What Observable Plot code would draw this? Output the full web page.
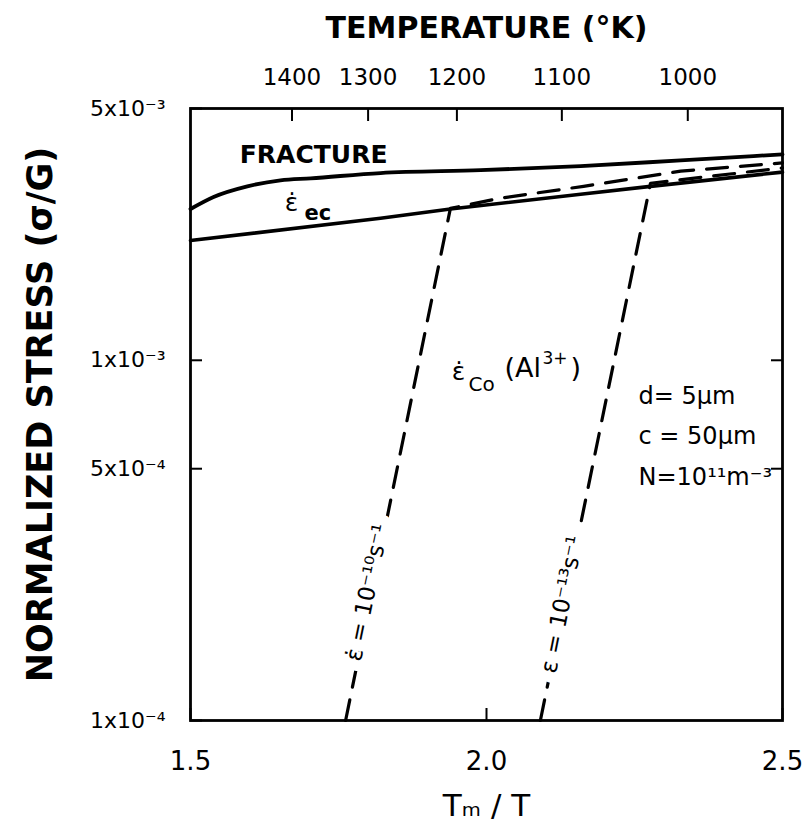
<!DOCTYPE html>
<html><head><meta charset="utf-8">
<script src="https://cdn.jsdelivr.net/npm/d3@7"></script>
<script src="https://cdn.jsdelivr.net/npm/@observablehq/plot@0.6"></script>
<style>body{margin:0;background:#fff;} svg{display:block}</style>
</head><body><div id="chart"></div>
<script>
// ---- data ----
const meltingT = 2340; // K, used for the top temperature axis (Tm/T)
const tempTicks = [1400, 1300, 1200, 1100, 1000];
const tempTickLabels = ["1400", "1300", "1200", "1100", "1000"];
const xTicks = [1.5, 2.0, 2.5];
const xTickLabels = ["1.5", "2.0", "2.5"];
const yTicks = [5e-3, 1e-3, 5e-4, 1e-4];
const yTickLabels = ["5x10⁻³", "1x10⁻³", "5x10⁻⁴", "1x10⁻⁴"];
const yRightTicks = [1e-3, 5e-4];

const fractureX = [1.5, 1.539, 1.596, 1.652, 1.703, 1.821, 1.990, 2.159, 2.328, 2.5];
const fractureY = [2.63e-3, 2.84e-3, 3.04e-3, 3.16e-3, 3.20e-3, 3.31e-3, 3.37e-3, 3.46e-3, 3.59e-3, 3.73e-3];

const ecX = [1.5, 1.821, 1.939, 2.159, 2.277, 2.5];
const ecY = [2.15e-3, 2.48e-3, 2.63e-3, 2.89e-3, 3.04e-3, 3.33e-3];

const rate10X = [1.762, 1.939, 2.024, 2.164, 2.328, 2.5];
const rate10Y = [1.0e-4, 2.64e-3, 2.82e-3, 3.04e-3, 3.35e-3, 3.53e-3];

const rate13X = [2.091, 2.277, 2.5];
const rate13Y = [1.0e-4, 3.10e-3, 3.42e-3];

// ---- build tables ----
const rows = (xs, ys) => xs.map((x, i) => ({x, y: ys[i]}));
const fracture = rows(fractureX, fractureY);
const ec = rows(ecX, ecY);
const rate10 = rows(rate10X, rate10Y);
const rate13 = rows(rate13X, rate13Y);

const tempPos = tempTicks.map(T => meltingT / T);
const tempLabelOf = new Map(tempPos.map((p, i) => [p, tempTickLabels[i]]));
const xLabelOf = new Map(xTicks.map((v, i) => [v, xTickLabels[i]]));
const yLabelOf = new Map(yTicks.map((v, i) => [v, yTickLabels[i]]));

const FONT = "DejaVu Sans";

const chart = Plot.plot({
  width: 808,
  height: 829,
  marginLeft: 190,
  marginRight: 26,
  marginTop: 108,
  marginBottom: 109,
  style: {fontFamily: FONT, color: "#000", background: "#fff"},
  x: {domain: [1.5, 2.5]},
  y: {type: "log", domain: [1e-4, 5e-3]},
  marks: [
    Plot.frame({stroke: "#000", strokeWidth: 2.8}),
    // axes
    Plot.axisX({anchor: "bottom", label: null, ticks: xTicks, tickSize: -12, tickPadding: 43, strokeWidth: 2,
      tickFormat: d => xLabelOf.get(d), fontSize: 26}),
    Plot.axisX({anchor: "top", label: null, ticks: tempPos, tickSize: -12, tickPadding: 36, strokeWidth: 2,
      tickFormat: d => tempLabelOf.get(d), fontSize: 23}),
    Plot.axisY({anchor: "left", label: null, ticks: yTicks, tickSize: -12, tickPadding: 37, strokeWidth: 2,
      tickFormat: d => yLabelOf.get(d), fontSize: 22}),
    Plot.axisY({anchor: "right", label: null, ticks: yRightTicks, tickSize: -12, strokeWidth: 2,
      tickFormat: () => ""}),
    // curves
    Plot.line(fracture, {x: "x", y: "y", stroke: "#000", strokeWidth: 3.8, curve: "monotone-x"}),
    Plot.line(ec, {x: "x", y: "y", stroke: "#000", strokeWidth: 3.6}),
    Plot.line(rate10, {x: "x", y: "y", stroke: "#000", strokeWidth: 3.2, strokeDasharray: "21,13"}),
    Plot.line(rate13, {x: "x", y: "y", stroke: "#000", strokeWidth: 3.2, strokeDasharray: "21,13"}),
    // annotations
    Plot.text(["FRACTURE"], {x: 1.708, y: 3.71e-3, fontSize: 25, fontWeight: "bold", textAnchor: "middle"}),
    Plot.text(["ε̇"], {x: 1.6706, y: 2.73e-3, fontSize: 25, textAnchor: "middle"}),
    Plot.text(["ec"], {x: 1.6706, y: 2.73e-3, dx: 13, dy: 10, fontSize: 21, fontWeight: "bold", textAnchor: "start"}),
    Plot.text(["ε̇"], {x: 1.9527, y: 9.26e-4, fontSize: 25, textAnchor: "middle"}),
    Plot.text(["Co"], {x: 1.9527, y: 9.26e-4, dx: 10, dy: 12, fontSize: 20, textAnchor: "start"}),
    Plot.text(["(Al"], {x: 1.9527, y: 9.26e-4, dx: 46, dy: -4, fontSize: 27, textAnchor: "start"}),
    Plot.text(["3+"], {x: 1.9527, y: 9.26e-4, dx: 84, dy: -14, fontSize: 17, textAnchor: "start"}),
    Plot.text([")"], {x: 1.9527, y: 9.26e-4, dx: 112, dy: -4, fontSize: 27, textAnchor: "start"}),
    Plot.text(["d= 5μm\nc = 50μm\nN=10¹¹m⁻³"], {x: 2.2568, y: 8.47e-4, dy: -11, fontSize: 24, lineHeight: 1.68,
      textAnchor: "start", lineAnchor: "top"}),
    Plot.text(["ε̇ = 10⁻¹⁰s⁻¹"], {x: 1.799, y: 2.267e-4, rotate: -78.4, fontSize: 23,
      stroke: "#fff", strokeWidth: 22, strokeLinejoin: "round", fill: "#000"}),
    Plot.text(["ε = 10⁻¹³s⁻¹"], {x: 2.128, y: 2.1e-4, rotate: -78.7, fontSize: 23,
      stroke: "#fff", strokeWidth: 22, strokeLinejoin: "round", fill: "#000"}),
    // titles
    Plot.text(["TEMPERATURE (°K)"], {frameAnchor: "top", dy: -80, lineAnchor: "middle", textAnchor: "middle",
      fontSize: 30, fontWeight: "bold"}),
    Plot.text(["Tₘ / T"], {frameAnchor: "bottom", dy: 86, lineAnchor: "middle", textAnchor: "middle", fontSize: 31}),
    Plot.text(["NORMALIZED STRESS (σ/G)"], {frameAnchor: "left", dx: -150, rotate: -90, lineAnchor: "middle",
      textAnchor: "middle", fontSize: 35, fontWeight: "bold"})
  ]
});
document.getElementById("chart").appendChild(chart);
</script>
</body></html>
